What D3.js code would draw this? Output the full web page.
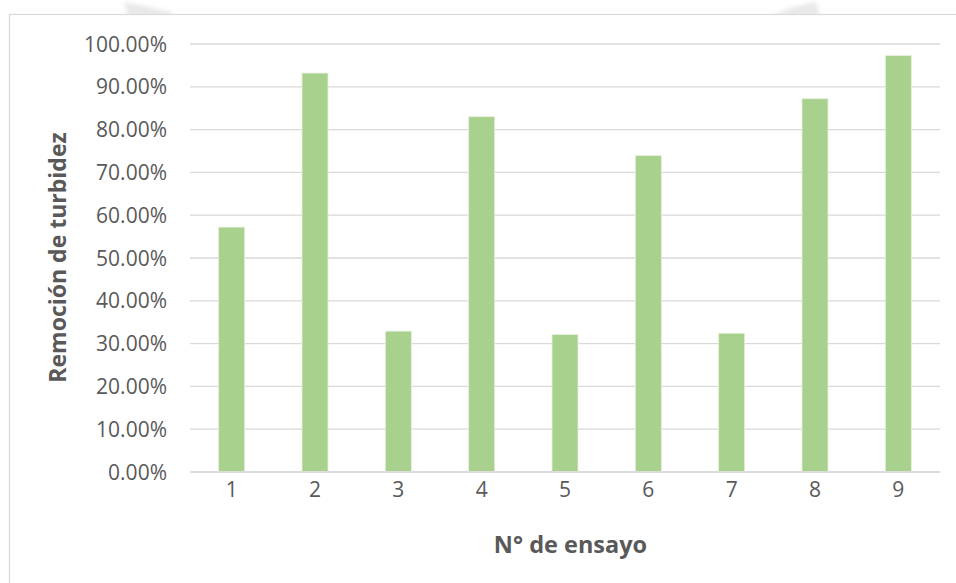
<!DOCTYPE html>
<html>
<head>
<meta charset="utf-8">
<script src="https://cdn.jsdelivr.net/npm/d3@7"></script>
<style>
  html, body { margin: 0; padding: 0; background: #ffffff; }
  svg { display: block; }
  text { font-family: "Open Sans", Lato, sans-serif; }
</style>
</head>
<body>
<svg id="chart" width="956" height="583"></svg>
<script>
// Ensayos de remoción de turbidez
const ensayos = ["1", "2", "3", "4", "5", "6", "7", "8", "9"];
const remocion = [0.571, 0.931, 0.328, 0.829, 0.320, 0.738, 0.323, 0.871, 0.972];
const yTicks = [0, 0.1, 0.2, 0.3, 0.4, 0.5, 0.6, 0.7, 0.8, 0.9, 1.0];
const xTitle = "N° de ensayo";
const yTitle = "Remoción de turbidez";

const svg = d3.select("#chart");
const W = 956, H = 583;
const margin = { left: 190, right: 16, top: 43.5, bottom: 111.5 };
const plotW = W - margin.left - margin.right;
const plotH = H - margin.top - margin.bottom;

const textColor = "#595959";
const gridColor = "#d9d9d9";
const barColor = "#a9d18e";

// faint shapes from the page behind the chart frame
const defs = svg.append("defs");
const blur = defs.append("filter").attr("id", "soft").attr("x", "-50%").attr("y", "-50%").attr("width", "200%").attr("height", "200%");
blur.append("feGaussianBlur").attr("stdDeviation", 2);
svg.append("path").attr("d", "M124,2 L172,12 L172,16 L128,16 Z").attr("fill", "#e8e8e8").attr("filter", "url(#soft)");
svg.append("path").attr("d", "M772,16 L790,8 L816,2 L820,16 Z").attr("fill", "#e8e8e8").attr("filter", "url(#soft)");

// chart frame
svg.append("rect")
  .attr("x", 9.5).attr("y", 14.5)
  .attr("width", W + 20).attr("height", H + 20)
  .attr("fill", "#ffffff").attr("stroke", gridColor).attr("stroke-width", 1.2);

const g = svg.append("g").attr("transform", `translate(${margin.left},${margin.top})`);

const x = d3.scaleBand().domain(ensayos).range([0, plotW]).paddingInner(0.688).paddingOuter(0.344);
const y = d3.scaleLinear().domain([0, 1]).range([plotH, 0]);

// horizontal gridlines and y labels
const yAxis = d3.axisLeft(y)
  .tickValues(yTicks)
  .tickSize(-plotW)
  .tickPadding(23)
  .tickFormat(d => (d * 100).toFixed(2) + "%");
const yg = g.append("g").call(yAxis);
yg.select(".domain").remove();
yg.selectAll(".tick line").attr("stroke", gridColor).attr("stroke-width", 1.3);
yg.selectAll(".tick text")
  .attr("fill", textColor).attr("font-size", 21).attr("dy", "0.36em");

// bars
g.selectAll("rect.bar")
  .data(remocion)
  .join("rect")
  .attr("class", "bar")
  .attr("x", (d, i) => x(ensayos[i]))
  .attr("y", d => y(d))
  .attr("width", x.bandwidth())
  .attr("height", d => plotH - y(d))
  .attr("fill", barColor)
  .attr("stroke", "#e6f1de")
  .attr("stroke-width", 0.8);

// x axis baseline and labels
const xAxis = d3.axisBottom(x).tickSize(0).tickPadding(21);
const xg = g.append("g").attr("transform", `translate(0,${plotH})`).call(xAxis);
xg.select(".domain").attr("stroke", gridColor).attr("stroke-width", 1.3);
xg.selectAll(".tick text").attr("fill", textColor).attr("font-size", 21).attr("dy", "0.2em");

// axis titles
svg.append("text")
  .attr("x", margin.left + plotW / 2 + 5.5)
  .attr("y", 552.5)
  .attr("text-anchor", "middle")
  .attr("fill", textColor)
  .attr("font-size", 23.5)
  .attr("font-weight", "bold")
  .text(xTitle);

svg.append("text")
  .attr("transform", `translate(65.5,${margin.top + plotH / 2}) rotate(-90)`)
  .attr("text-anchor", "middle")
  .attr("fill", textColor)
  .attr("font-size", 23)
  .attr("font-weight", "bold")
  .text(yTitle);
</script>
</body>
</html>
